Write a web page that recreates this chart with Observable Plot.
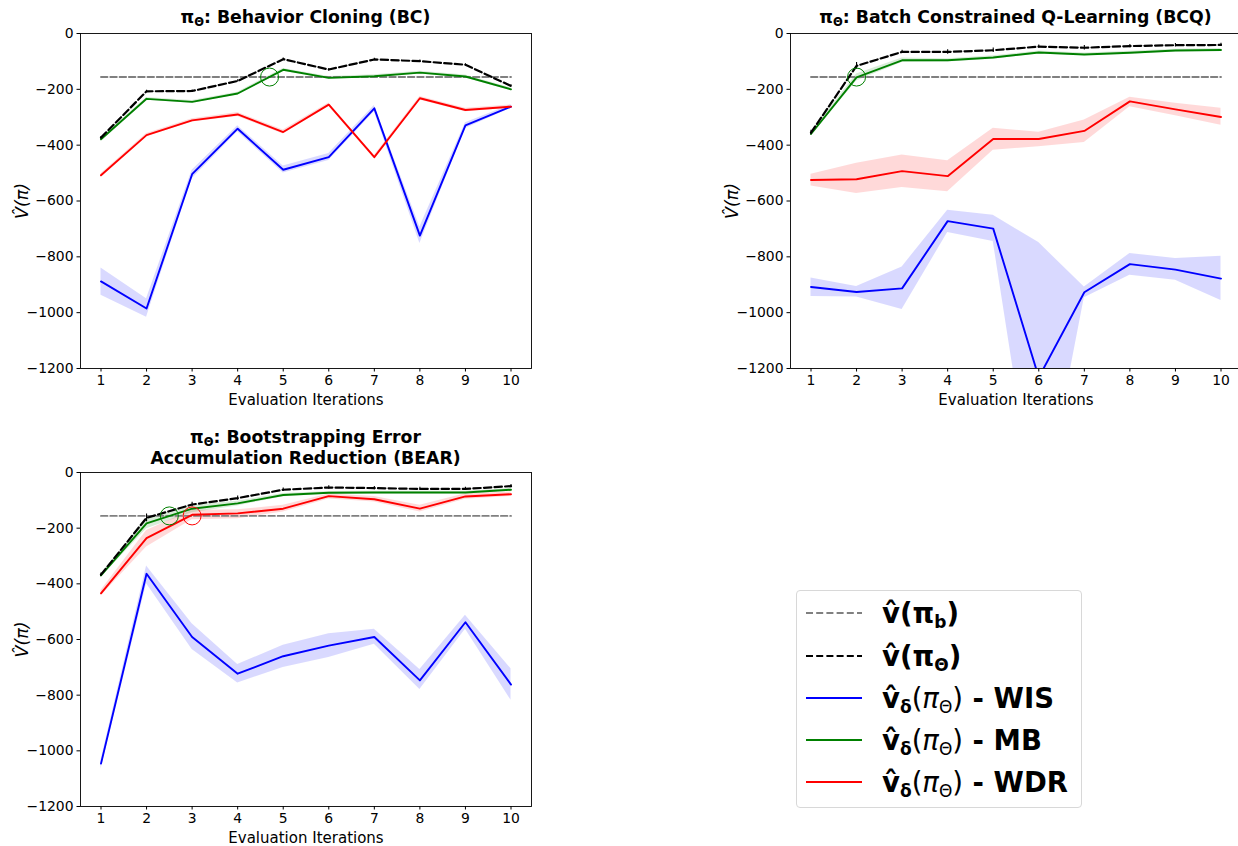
<!DOCTYPE html>
<html>
<head>
<meta charset="utf-8">
<script src="https://cdn.jsdelivr.net/npm/d3@7"></script>
<script src="https://cdn.jsdelivr.net/npm/@observablehq/plot@0.6"></script>
<style>
  html, body { margin: 0; padding: 0; background: #fff; }
  #root { position: relative; width: 1238px; height: 846px; overflow: hidden; background: #fff; font-family: "DejaVu Sans", sans-serif; }
  .panel { position: absolute; }
  .title { position: absolute; text-align: center; font-weight: bold; font-size: 17.3px; line-height: 21px; color: #000; white-space: nowrap; }
  .title sub { font-size: 11.5px; vertical-align: -3px; line-height: 0; }
  #legend { position: absolute; left: 796px; top: 590px; width: 286px; height: 218px; border: 1px solid #d8d8d8; border-radius: 4px; box-sizing: border-box; background: #fff; }
  .lrow { position: absolute; left: 0; height: 34px; width: 284px; }
  .lrow svg { position: absolute; left: 9px; top: 0; }
  .ltext { position: absolute; left: 85px; top: 0; line-height: 34px; font-size: 27.5px; font-weight: bold; white-space: nowrap; color: #000; }
  .ltext sub { font-size: 17px; vertical-align: -5px; line-height: 0; }
  .ltext .m { font-weight: normal; }
  .ltext .i { font-style: italic; }
</style>
</head>
<body>
<div id="root"></div>
<script>
// ---------- data ----------
const iterations = [1, 2, 3, 4, 5, 6, 7, 8, 9, 10];
const yTicks = [0, -200, -400, -600, -800, -1000, -1200];
const behaviorValue = -156;

// Behavior Cloning (BC)
const bcPolicy  = [-373, -207, -206, -170, -92, -129, -93, -99, -112, -188];
const bcPolicyErr = [4, 4, 4, 4, 4, 4, 4, 4, 4, 4];
const bcMB      = [-379, -234, -245, -215, -130, -159, -153, -140, -154, -200];
const bcMBLow   = [-384, -239, -250, -220, -135, -164, -158, -145, -159, -205];
const bcMBHigh  = [-374, -229, -240, -210, -125, -154, -148, -135, -149, -195];
const bcWDR     = [-508, -364, -311, -290, -353, -255, -443, -232, -274, -262];
const bcWDRLow  = [-514, -370, -317, -297, -360, -261, -449, -238, -280, -268];
const bcWDRHigh = [-502, -358, -305, -283, -346, -249, -437, -226, -268, -256];
const bcWIS     = [-888, -985, -504, -341, -488, -443, -268, -724, -329, -262];
const bcWISLow  = [-938, -1016, -520, -352, -500, -455, -280, -752, -340, -268];
const bcWISHigh = [-840, -950, -490, -330, -475, -430, -258, -693, -320, -255];
const bcCircles = [{x: 4.7, y: -156, color: "#008000"}];

// Batch Constrained Q-Learning (BCQ)
const bcqPolicy  = [-355, -116, -66, -66, -60, -47, -51, -45, -42, -41];
const bcqPolicyErr = [8, 12, 6, 8, 8, 6, 8, 6, 6, 6];
const bcqMB      = [-360, -157, -96, -96, -86, -68, -75, -69, -61, -59];
const bcqMBLow   = [-366, -170, -104, -102, -92, -73, -80, -74, -66, -64];
const bcqMBHigh  = [-354, -145, -88, -90, -80, -63, -70, -64, -56, -54];
const bcqWDR     = [-525, -522, -493, -511, -378, -378, -349, -243, -272, -299];
const bcqWDRLow  = [-546, -573, -552, -567, -418, -406, -390, -262, -295, -329];
const bcqWDRHigh = [-504, -465, -435, -456, -339, -354, -310, -228, -250, -268];
const bcqWIS     = [-908, -926, -913, -672, -699, -1232, -927, -826, -846, -878];
const bcqWISLow  = [-942, -944, -989, -713, -745, -1790, -947, -866, -884, -956];
const bcqWISHigh = [-876, -906, -836, -633, -651, -749, -908, -788, -806, -798];
const bcqCircles = [{x: 2, y: -156, color: "#008000"}];

// Bootstrapping Error Accumulation Reduction (BEAR)
const bearPolicy  = [-367, -163, -115, -92, -62, -54, -56, -59, -59, -49];
const bearPolicyErr = [6, 14, 8, 8, 6, 6, 6, 6, 6, 6];
const bearMB      = [-370, -183, -130, -111, -81, -73, -72, -72, -72, -62];
const bearMBLow   = [-376, -202, -145, -120, -87, -78, -77, -77, -77, -67];
const bearMBHigh  = [-364, -166, -118, -103, -75, -68, -67, -67, -67, -57];
const bearWDR     = [-434, -236, -152, -147, -130, -85, -96, -130, -86, -78];
const bearWDRLow  = [-444, -268, -170, -166, -142, -95, -106, -142, -96, -86];
const bearWDRHigh = [-424, -208, -136, -134, -118, -77, -86, -118, -76, -70];
const bearWIS     = [-1046, -364, -591, -723, -660, -622, -591, -747, -538, -762];
const bearWISLow  = [-1066, -400, -636, -756, -701, -665, -617, -780, -563, -818];
const bearWISHigh = [-1034, -336, -543, -690, -621, -579, -563, -708, -513, -705];
const bearCircles = [{x: 2.5, y: -156, color: "#008000"}, {x: 3, y: -156, color: "#ff0000"}];

const BLUE = "#0000ff", GREEN = "#008000", RED = "#ff0000", GRAY = "#808080";

// ---------- panel builder ----------
function makePanel(d, height, marginBottom) {
  const rows = iterations.map((it, i) => ({
    it, behavior: behaviorValue, policy: d.policy[i],
    policyLow: d.policy[i] - d.policyErr[i], policyHigh: d.policy[i] + d.policyErr[i],
    mb: d.mb[i], mbLow: d.mbLow[i], mbHigh: d.mbHigh[i],
    wdr: d.wdr[i], wdrLow: d.wdrLow[i], wdrHigh: d.wdrHigh[i],
    wis: d.wis[i], wisLow: d.wisLow[i], wisHigh: d.wisHigh[i]
  }));
  return Plot.plot({
    width: 545, height, marginLeft: 80, marginRight: 14, marginTop: 33, marginBottom,
    x: {domain: [0.55, 10.45]},
    y: {domain: [-1200, 0]},
    color: {type: "identity"},
    style: {fontFamily: "DejaVu Sans", fontSize: "13.9px", color: "#000", background: "transparent", overflow: "visible"},
    marks: [
      Plot.areaY(rows, {x: "it", y1: "wisLow", y2: "wisHigh", fill: BLUE, fillOpacity: 0.15, clip: true}),
      Plot.areaY(rows, {x: "it", y1: "wdrLow", y2: "wdrHigh", fill: RED, fillOpacity: 0.15, clip: true}),
      Plot.areaY(rows, {x: "it", y1: "mbLow", y2: "mbHigh", fill: GREEN, fillOpacity: 0.15, clip: true}),
      Plot.line(rows, {x: "it", y: "behavior", stroke: GRAY, strokeWidth: 1.9, strokeDasharray: "6.5 2.8"}),
      Plot.line(rows, {x: "it", y: "wis", stroke: BLUE, strokeWidth: 1.9, clip: true}),
      Plot.line(rows, {x: "it", y: "wdr", stroke: RED, strokeWidth: 1.9, clip: true}),
      Plot.line(rows, {x: "it", y: "mb", stroke: GREEN, strokeWidth: 1.9, clip: true}),
      Plot.line(rows, {x: "it", y: "policy", stroke: "#000", strokeWidth: 2.2, strokeDasharray: "7.4 3.2"}),
      Plot.ruleX(rows, {x: "it", y1: "policyLow", y2: "policyHigh", stroke: "#000", strokeWidth: 1.1}),
      Plot.dot(d.circles, {x: "x", y: "y", r: 9, stroke: "color", strokeWidth: 1, fill: "none"}),
      Plot.frame({stroke: "#000", strokeWidth: 0.9}),
      Plot.axisX({ticks: iterations, tickSize: 3.5, tickPadding: 3, tickFormat: "d", label: null, fontSize: 13.9}),
      Plot.axisY({ticks: yTicks, tickSize: 3.5, tickPadding: 3.5, tickFormat: "d", label: null, fontSize: 13.9}),
      Plot.text(["V\u0302(\u03c0)"], {text: t => t, frameAnchor: "left", dx: -58, rotate: -90, fontSize: 17.5, fontStyle: "italic", textAnchor: "middle", lineAnchor: "middle"}),
      Plot.text(["Evaluation Iterations"], {text: t => t, frameAnchor: "bottom", dy: 32, fontSize: 15, textAnchor: "middle", lineAnchor: "middle"})
    ]
  });
}

const root = document.getElementById("root");
function place(node, left, top) {
  node.classList.add("panel");
  node.style.left = left + "px";
  node.style.top = top + "px";
  root.appendChild(node);
}
function addTitle(html, left, top, width) {
  const t = document.createElement("div");
  t.className = "title";
  t.style.left = left + "px"; t.style.top = top + "px"; t.style.width = width + "px";
  t.innerHTML = html;
  root.appendChild(t);
}

place(makePanel({policy: bcPolicy, policyErr: bcPolicyErr, mb: bcMB, mbLow: bcMBLow, mbHigh: bcMBHigh, wdr: bcWDR, wdrLow: bcWDRLow, wdrHigh: bcWDRHigh, wis: bcWIS, wisLow: bcWISLow, wisHigh: bcWISHigh, circles: bcCircles}, 420, 52), 0, 0);
place(makePanel({policy: bcqPolicy, policyErr: bcqPolicyErr, mb: bcqMB, mbLow: bcqMBLow, mbHigh: bcqMBHigh, wdr: bcqWDR, wdrLow: bcqWDRLow, wdrHigh: bcqWDRHigh, wis: bcqWIS, wisLow: bcqWISLow, wisHigh: bcqWISHigh, circles: bcqCircles}, 420, 52), 710, 0);
place(makePanel({policy: bearPolicy, policyErr: bearPolicyErr, mb: bearMB, mbLow: bearMBLow, mbHigh: bearMBHigh, wdr: bearWDR, wdrLow: bearWDRLow, wdrHigh: bearWDRHigh, wis: bearWIS, wisLow: bearWISLow, wisHigh: bearWISHigh, circles: bearCircles}, 407, 40), 0, 439);

addTitle("\u03c0<sub>\u0398</sub>: Behavior Cloning (BC)", 80, 7, 451);
addTitle("\u03c0<sub>\u0398</sub>: Batch Constrained Q-Learning (BCQ)", 790, 7, 451);
addTitle("\u03c0<sub>\u0398</sub>: Bootstrapping Error<br>Accumulation Reduction (BEAR)", 80, 427, 451);

// ---------- legend ----------
const legendItems = [
  {html: "v\u0302(\u03c0<sub>b</sub>)", stroke: GRAY, dash: "7 3.2", width: 2},
  {html: "v\u0302(\u03c0<sub>\u0398</sub>)", stroke: "#000", dash: "7 3.2", width: 2},
  {html: "v\u0302<sub>\u03b4</sub><span class='m'>(<span class='i'>\u03c0</span><sub>\u0398</sub>)</span> - WIS", stroke: BLUE, dash: null, width: 2},
  {html: "v\u0302<sub>\u03b4</sub><span class='m'>(<span class='i'>\u03c0</span><sub>\u0398</sub>)</span> - MB", stroke: GREEN, dash: null, width: 2},
  {html: "v\u0302<sub>\u03b4</sub><span class='m'>(<span class='i'>\u03c0</span><sub>\u0398</sub>)</span> - WDR", stroke: RED, dash: null, width: 2}
];
const legend = document.createElement("div");
legend.id = "legend";
const rowTops = [5, 48, 90, 132, 174];
legendItems.forEach((item, i) => {
  const row = document.createElement("div");
  row.className = "lrow";
  row.style.top = rowTops[i] + "px";
  const svg = d3.create("svg").attr("width", 58).attr("height", 34);
  svg.append("line").attr("x1", 0).attr("x2", 56).attr("y1", 17).attr("y2", 17)
    .attr("stroke", item.stroke).attr("stroke-width", item.width)
    .attr("stroke-dasharray", item.dash);
  row.appendChild(svg.node());
  const txt = document.createElement("div");
  txt.className = "ltext";
  txt.innerHTML = item.html;
  row.appendChild(txt);
  legend.appendChild(row);
});
root.appendChild(legend);
</script>
</body>
</html>
